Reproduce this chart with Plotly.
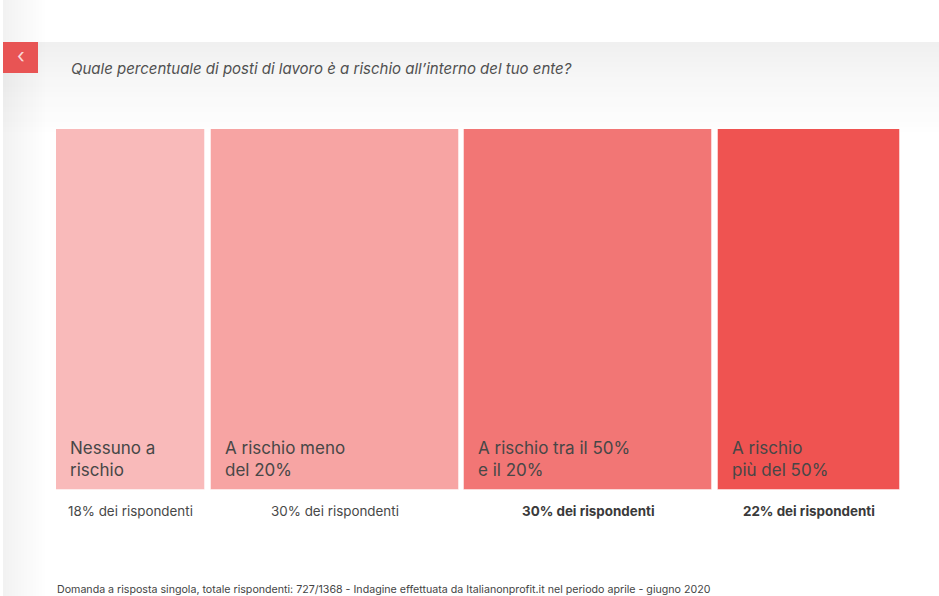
import plotly.graph_objects as go

# ---- data ----
categories = ["Nessuno a<br>rischio", "A rischio meno<br>del 20%",
              "A rischio tra il 50%<br>e il 20%", "A rischio<br>più del 50%"]
shares = [18, 30, 30, 22]
share_labels = ["18% dei rispondenti", "30% dei rispondenti",
                "30% dei rispondenti", "22% dei rispondenti"]
bold_flags = [False, False, True, True]
colors = ["#f9baba", "#f7a4a3", "#f27675", "#ef5351"]
title_text = "Quale percentuale di posti di lavoro è a rischio all’interno del tuo ente?"
footer_text = ("Domanda a risposta singola, totale rispondenti: 727/1368 - Indagine effettuata da "
               "Italianonprofit.it nel periodo aprile - giugno 2020")

W, H = 939, 596
ML, MR, MT, MB = 56, 39, 129, 106
PW, PH = W - ML - MR, H - MT - MB
GAP = 0.7
FONT = "Inter, 'Noto Sans', sans-serif"

def px(x):
    return (x - ML) / PW

def py(y):
    return (H - MB - y) / PH

# positions from cumulative shares
lefts, centers = [], []
acc = 0
for i, s in enumerate(shares):
    left = acc + i * GAP
    lefts.append(left)
    centers.append(left + s / 2)
    acc += s
total = acc + GAP * (len(shares) - 1)

fig = go.Figure()
fig.add_trace(go.Bar(
    x=centers, y=[1] * len(shares), width=shares,
    marker=dict(color=colors, line=dict(color="rgba(255,255,255,0.45)", width=1)),
    hoverinfo="skip", showlegend=False,
))

shapes = []
# top band (vertical gradient)
n = 19
for i in range(n):
    y0 = 42 + i * 5
    c = int(240 + (255 - 240) * (i / (n - 1)) ** 0.8)
    shapes.append(dict(type="rect", xref="paper", yref="paper", layer="below",
                       x0=px(3), x1=px(W), y0=py(y0 + 5), y1=py(y0),
                       line=dict(width=0), fillcolor=f"rgb({c},{c},{c})"))
# left gray strip (horizontal gradient), translucent so it sits over the band
n = 14
for i in range(n):
    x0 = 3 + i * 3
    a = 0.05 * (1 - i / n)
    shapes.append(dict(type="rect", xref="paper", yref="paper", layer="below",
                       x0=px(x0), x1=px(x0 + 3), y0=py(H), y1=py(0),
                       line=dict(width=0), fillcolor=f"rgba(0,0,0,{a:.4f})"))
# back button
shapes.append(dict(type="rect", xref="paper", yref="paper",
                   x0=px(3), x1=px(38), y0=py(73), y1=py(42),
                   line=dict(width=0), fillcolor="#e85454"))

annotations = [
    dict(text="‹", xref="paper", yref="paper", x=px(20.5), y=py(56),
         showarrow=False, xanchor="center", yanchor="middle",
         font=dict(family=FONT, size=20, color="rgba(255,255,255,0.8)")),
    dict(text=f"<i>{title_text}</i>", xref="paper", yref="paper",
         x=px(68.5), y=py(68), showarrow=False, xanchor="left", yanchor="middle",
         font=dict(family=FONT, size=15, color="#505050")),
    dict(text=footer_text, xref="paper", yref="paper", x=px(55), y=py(589),
         showarrow=False, xanchor="left", yanchor="middle",
         font=dict(family=FONT, size=10.65, color="#444444")),
]
for i in range(len(shares)):
    annotations.append(dict(
        text=categories[i], x=lefts[i], y=0, xref="x", yref="y",
        showarrow=False, xanchor="left", yanchor="bottom", align="left",
        xshift=12, yshift=8,
        font=dict(family=FONT, size=17, color="#474747")))
    lbl = f"<b>{share_labels[i]}</b>" if bold_flags[i] else share_labels[i]
    annotations.append(dict(
        text=lbl, x=centers[i], y=py(511), xref="x", yref="paper",
        showarrow=False, xanchor="center", yanchor="middle",
        font=dict(family=FONT, size=13.4, color="#3a3a3a" if bold_flags[i] else "#484848")))

fig.update_layout(
    width=W, height=H,
    margin=dict(l=ML, r=MR, t=MT, b=MB, pad=0),
    paper_bgcolor="white", plot_bgcolor="rgba(0,0,0,0)",
    xaxis=dict(range=[0, total], visible=False, fixedrange=True),
    yaxis=dict(range=[0, 1], visible=False, fixedrange=True),
    bargap=0, shapes=shapes, annotations=annotations,
    showlegend=False,
)
fig.write_html("out.html", config=dict(displayModeBar=False))
